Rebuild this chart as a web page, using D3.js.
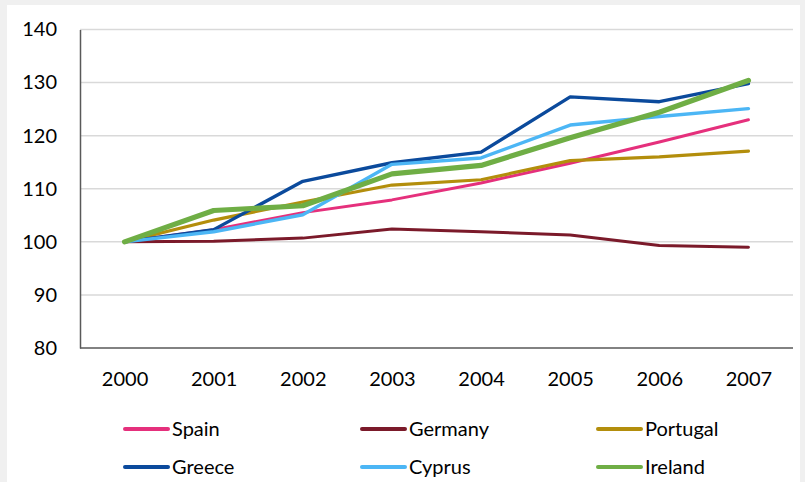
<!DOCTYPE html>
<html>
<head>
<meta charset="utf-8">
<script src="https://cdn.jsdelivr.net/npm/d3@7"></script>
<style>
  html, body { margin: 0; padding: 0; background: #f0f0f0; }
  svg { display: block; }
  text { font-family: Lato, "Open Sans", sans-serif; fill: #000; }
</style>
</head>
<body>
<svg id="chart" width="805" height="482"></svg>
<script>
const years = ["2000", "2001", "2002", "2003", "2004", "2005", "2006", "2007"];
const yTicks = [80, 90, 100, 110, 120, 130, 140];
const countries = ["Spain", "Germany", "Portugal", "Greece", "Cyprus", "Ireland"];
const spain    = [100, 102.3, 105.5, 107.9, 111.1, 114.8, 118.8, 123.0];
const germany  = [100, 100.1, 100.7, 102.4, 101.9, 101.3, 99.3, 99.0];
const portugal = [100, 104.1, 107.5, 110.7, 111.7, 115.3, 116.0, 117.1];
const greece   = [100, 102.3, 111.4, 114.9, 116.9, 127.3, 126.4, 129.8];
const cyprus   = [100, 101.9, 105.1, 114.6, 115.8, 122.0, 123.6, 125.1];
const ireland  = [100, 105.9, 106.8, 112.8, 114.4, 119.6, 124.4, 130.4];

const seriesValues = [spain, germany, portugal, greece, cyprus, ireland];
const colors = ["#e5307c", "#7b1a2a", "#b38e0c", "#0b4a9c", "#4cb6f5", "#6fae45"];
const widths = [3, 3, 3.2, 3.4, 3.4, 5.2];

const svg = d3.select("#chart");
svg.append("rect").attr("x", 0).attr("y", 0).attr("width", 805).attr("height", 482).attr("fill", "#f0f0f0");
svg.append("rect").attr("x", 7).attr("y", 5).attr("width", 793).attr("height", 477).attr("fill", "#ffffff");

const pLeft = 80, pRight = 793, pTop = 29.5, pBottom = 348;
const x = d3.scalePoint().domain(years).range([pLeft, pRight]).padding(0.5);
const y = d3.scaleLinear().domain([80, 140]).range([pBottom, pTop]);

// gridlines
svg.append("g").selectAll("line").data(yTicks.filter(t => t !== 80)).join("line")
  .attr("x1", pLeft).attr("x2", pRight)
  .attr("y1", d => y(d)).attr("y2", d => y(d))
  .attr("stroke", "#d9d9d9").attr("stroke-width", 1.5);

// y axis
const yAxis = svg.append("g").attr("transform", `translate(${pLeft},0)`)
  .call(d3.axisLeft(y).tickValues(yTicks).tickSize(0).tickPadding(23).tickFormat(d3.format("d")));
yAxis.select(".domain").attr("stroke", "#595959").attr("stroke-width", 1.5);
yAxis.selectAll("text").attr("font-size", 20).attr("font-family", "Lato, sans-serif").attr("fill", "#000");

// x axis
const xAxis = svg.append("g").attr("transform", `translate(0,${pBottom})`)
  .call(d3.axisBottom(x).tickSize(0).tickPadding(24));
xAxis.select(".domain").attr("stroke", "#595959").attr("stroke-width", 1.5)
  .attr("d", `M${pLeft},0H${pRight}`);
xAxis.selectAll("text").attr("font-size", 20).attr("font-family", "Lato, sans-serif").attr("fill", "#000");

// lines
const line = d3.line().x((d, i) => x(years[i])).y(d => y(d));
svg.append("g").selectAll("path").data(seriesValues).join("path")
  .attr("d", d => line(d))
  .attr("fill", "none")
  .attr("stroke", (d, i) => colors[i])
  .attr("stroke-width", (d, i) => widths[i])
  .attr("stroke-linejoin", "round")
  .attr("stroke-linecap", "round");

// legend
const legX = [125, 362, 598];
const legY = [429, 467];
const leg = svg.append("g").selectAll("g").data(countries).join("g")
  .attr("transform", (d, i) => `translate(${legX[i % 3]},${legY[Math.floor(i / 3)]})`);
leg.append("line").attr("x1", 0).attr("x2", 43).attr("y1", 0).attr("y2", 0)
  .attr("stroke", (d, i) => colors[i]).attr("stroke-width", 4).attr("stroke-linecap", "round");
leg.append("text").attr("x", 47).attr("y", 0).attr("dy", "0.35em")
  .attr("font-size", 20).text(d => d);
</script>
</body>
</html>
